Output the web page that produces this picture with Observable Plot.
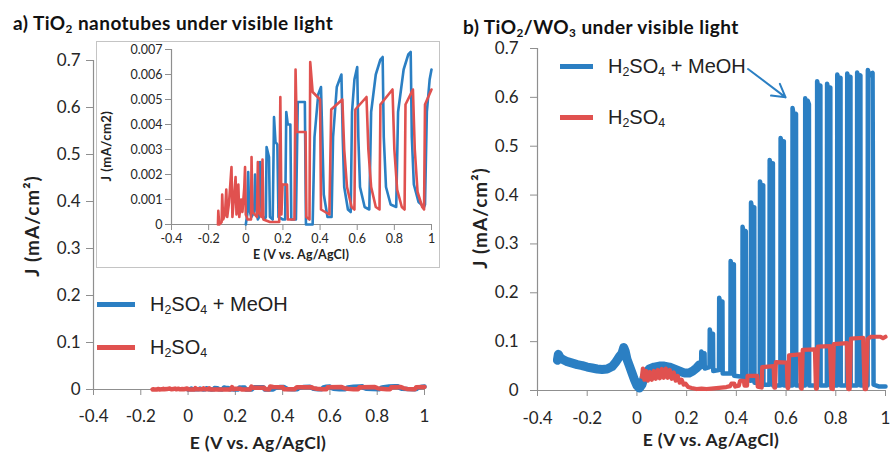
<!DOCTYPE html>
<html><head><meta charset="utf-8">
<script src="https://cdn.jsdelivr.net/npm/d3@7"></script>
<script src="https://cdn.jsdelivr.net/npm/@observablehq/plot@0.6"></script>
<style>
body{margin:0;background:#fff;}
#wrap{position:relative;width:890px;height:453px;overflow:hidden;font-family:Lato,sans-serif;color:#222;}
.abs{position:absolute;white-space:nowrap;}
.title{font-weight:bold;font-size:19px;line-height:19px;letter-spacing:0.45px;color:#111;}
.axt{font-weight:bold;font-size:17.5px;line-height:17.5px;letter-spacing:0.4px;color:#222;}
.yt{font-size:19px;line-height:19px;letter-spacing:1px;}
.rot{transform:translate(-50%,-50%) rotate(-90deg);}
.hx{transform:translateX(-50%);}
.leg{font-family:"Liberation Sans",Arial,sans-serif;font-size:20px;line-height:20px;color:#222;}
sub{font-size:0.62em;vertical-align:-0.28em;line-height:0;}
.sw{position:absolute;height:5px;}
#insetBox{position:absolute;left:96px;top:41px;width:342px;height:225px;border:1px solid #c4c4c4;background:#fff;}
</style></head><body><div id="wrap"></div><script>
// ---------- data ----------
const xTicks = [-0.4, -0.2, 0, 0.2, 0.4, 0.6, 0.8, 1];
const yTicksMain = [0, 0.1, 0.2, 0.3, 0.4, 0.5, 0.6, 0.7];
const yTicksInset = [0, 0.001, 0.002, 0.003, 0.004, 0.005, 0.006, 0.007];

// a) TiO2 nanotubes, H2SO4 + MeOH  [E (V), J (mA/cm2)]
const tio2Meoh = [[0.0,0.0],[0.008,0.0004],[0.013,0.0021],[0.018,0.0006],[0.03,0.0003],[0.045,0.0005],[0.05,0.0020],[0.056,0.0008],[0.065,0.0002],[0.072,0.0003],[0.077,0.0025],[0.082,0.0022],[0.088,0.0004],[0.1,0.0002],[0.108,0.0003],[0.112,0.0031],[0.125,0.0027],[0.13,0.0003],[0.145,0.0002],[0.152,0.0043],[0.16,0.0033],[0.17,0.0032],[0.176,0.0003],[0.2,0.0002],[0.212,0.0002],[0.218,0.0045],[0.226,0.0040],[0.24,0.0040],[0.245,0.0002],[0.27,0.0002],[0.28,0.0049],[0.3,0.0049],[0.318,0.0049],[0.324,0.0],[0.36,0.0],[0.37,0.0035],[0.39,0.0052],[0.405,0.0055],[0.412,0.0035],[0.42,0.0012],[0.44,0.0003],[0.462,0.0003],[0.47,0.0035],[0.49,0.0055],[0.515,0.0060],[0.522,0.0035],[0.53,0.0015],[0.55,0.0006],[0.565,0.0005],[0.572,0.0045],[0.585,0.0058],[0.6,0.0063],[0.606,0.0035],[0.615,0.0015],[0.64,0.0007],[0.665,0.0006],[0.675,0.0045],[0.7,0.0060],[0.725,0.0066],[0.737,0.0067],[0.743,0.0035],[0.755,0.0015],[0.78,0.0008],[0.81,0.0007],[0.82,0.0045],[0.85,0.0062],[0.875,0.0068],[0.888,0.0069],[0.894,0.0035],[0.905,0.0016],[0.93,0.0009],[0.96,0.0007],[0.965,0.0008],[0.975,0.0045],[0.99,0.0058],[1.0,0.0062]];

// a) TiO2 nanotubes, H2SO4
const tio2H2so4 = [[-0.15,0.0],[-0.148,0.00055],[-0.143,0.0],[-0.13,0.0001],[-0.127,0.0012],[-0.122,0.0002],[-0.112,0.0004],[-0.105,0.0014],[-0.1,0.0003],[-0.09,0.0009],[-0.077,0.0023],[-0.072,0.0003],[-0.062,0.0012],[-0.055,0.0019],[-0.05,0.0004],[-0.04,0.0016],[-0.035,0.0003],[-0.025,0.0010],[-0.018,0.0005],[-0.008,0.0015],[-0.004,0.0023],[0.0,0.0004],[0.01,0.0002],[0.028,0.0002],[0.031,0.0027],[0.036,0.0005],[0.06,0.0003],[0.065,0.0025],[0.07,0.0005],[0.085,0.0003],[0.09,0.0026],[0.095,0.0002],[0.13,0.0001],[0.18,0.0001],[0.186,0.0051],[0.192,0.0004],[0.198,0.0016],[0.222,0.0016],[0.226,0.0002],[0.262,0.0002],[0.268,0.0062],[0.275,0.0037],[0.322,0.0037],[0.326,0.0003],[0.343,0.0002],[0.347,0.0065],[0.36,0.0053],[0.4,0.0050],[0.405,0.0006],[0.45,0.0004],[0.46,0.0046],[0.52,0.0050],[0.53,0.0030],[0.545,0.0015],[0.57,0.0007],[0.585,0.0006],[0.59,0.0046],[0.65,0.0051],[0.66,0.0030],[0.675,0.0015],[0.7,0.0007],[0.72,0.0006],[0.725,0.0048],[0.79,0.0054],[0.8,0.0030],[0.815,0.0014],[0.84,0.0007],[0.855,0.0006],[0.86,0.0048],[0.9,0.0054],[0.91,0.0030],[0.925,0.0013],[0.95,0.0007],[0.96,0.0006],[0.965,0.0048],[1.0,0.0054]];

// b) TiO2/WO3, H2SO4 + MeOH : noisy dark-current band (before chopping)
const wo3MeohBand = [[-0.32,0.062],[-0.316,0.074],[-0.31,0.068],[-0.3,0.064],[-0.28,0.059],[-0.26,0.056],[-0.24,0.053],[-0.22,0.051],[-0.2,0.048],[-0.18,0.046],[-0.16,0.044],[-0.14,0.043],[-0.12,0.044],[-0.1,0.049],[-0.085,0.058],[-0.07,0.07],[-0.06,0.076],[-0.053,0.088],[-0.047,0.08],[-0.04,0.064],[-0.03,0.05],[-0.02,0.036],[-0.01,0.022],[0.0,0.01],[0.01,0.005],[0.02,0.012],[0.03,0.028],[0.04,0.038],[0.05,0.044],[0.07,0.048],[0.09,0.05],[0.11,0.05],[0.13,0.048],[0.15,0.044],[0.17,0.04],[0.19,0.036],[0.21,0.036],[0.225,0.04],[0.24,0.046],[0.25,0.052]];

// b) TiO2/WO3, H2SO4 + MeOH : chopped-light pulses
const wo3MeohPulses = [[0.25,0.052],[0.258,0.048],[0.259,0.08],[0.266,0.074],[0.272,0.076],[0.273,0.045],[0.292,0.048],[0.293,0.125],[0.298,0.112],[0.306,0.116],[0.307,0.04],[0.33,0.042],[0.331,0.19],[0.336,0.178],[0.344,0.182],[0.345,0.035],[0.376,0.035],[0.377,0.265],[0.382,0.254],[0.39,0.258],[0.391,0.03],[0.424,0.028],[0.425,0.335],[0.43,0.322],[0.438,0.326],[0.439,0.022],[0.458,0.02],[0.459,0.385],[0.464,0.37],[0.472,0.375],[0.473,0.016],[0.494,0.015],[0.495,0.428],[0.5,0.415],[0.508,0.42],[0.509,0.012],[0.533,0.012],[0.534,0.472],[0.539,0.46],[0.547,0.465],[0.548,0.01],[0.577,0.01],[0.578,0.517],[0.583,0.505],[0.591,0.51],[0.592,0.01],[0.625,0.01],[0.626,0.578],[0.631,0.562],[0.64,0.566],[0.641,0.01],[0.676,0.01],[0.677,0.598],[0.682,0.582],[0.687,0.593],[0.692,0.586],[0.693,0.01],[0.724,0.01],[0.725,0.633],[0.73,0.62],[0.738,0.624],[0.739,0.01],[0.764,0.01],[0.765,0.628],[0.77,0.615],[0.778,0.62],[0.779,0.01],[0.805,0.01],[0.806,0.647],[0.811,0.636],[0.819,0.64],[0.82,0.01],[0.845,0.01],[0.846,0.649],[0.851,0.638],[0.859,0.642],[0.86,0.01],[0.885,0.01],[0.886,0.651],[0.891,0.64],[0.899,0.645],[0.9,0.01],[0.928,0.01],[0.929,0.656],[0.934,0.645],[0.948,0.65],[0.952,0.012],[0.975,0.008],[1.0,0.008]];

// b) TiO2/WO3, H2SO4
const wo3H2so4 = [[0.02,0.028],[0.024,0.045],[0.03,0.022],[0.037,0.04],[0.044,0.02],[0.052,0.038],[0.06,0.022],[0.068,0.04],[0.076,0.024],[0.084,0.042],[0.092,0.025],[0.1,0.044],[0.108,0.026],[0.116,0.045],[0.124,0.026],[0.132,0.042],[0.14,0.024],[0.148,0.037],[0.156,0.02],[0.164,0.03],[0.172,0.016],[0.18,0.022],[0.188,0.012],[0.196,0.014],[0.206,0.007],[0.22,0.005],[0.24,0.003],[0.26,0.004],[0.28,0.003],[0.3,0.004],[0.32,0.005],[0.34,0.006],[0.36,0.007],[0.375,0.009],[0.38,0.014],[0.392,0.014],[0.395,0.008],[0.41,0.01],[0.415,0.02],[0.43,0.02],[0.433,0.01],[0.443,0.01],[0.445,0.03],[0.484,0.03],[0.486,0.008],[0.502,0.006],[0.504,0.048],[0.55,0.05],[0.553,0.006],[0.556,0.006],[0.559,0.058],[0.603,0.057],[0.606,0.005],[0.609,0.005],[0.612,0.072],[0.656,0.074],[0.659,0.005],[0.663,0.004],[0.667,0.083],[0.716,0.084],[0.72,0.004],[0.724,0.004],[0.728,0.09],[0.777,0.091],[0.782,0.004],[0.788,0.003],[0.792,0.095],[0.845,0.097],[0.85,0.003],[0.856,0.003],[0.861,0.106],[0.91,0.108],[0.916,0.003],[0.922,0.003],[0.928,0.105],[0.94,0.11],[0.98,0.11],[0.99,0.107],[1.0,0.11]];

// annotation arrow in panel b (data units)
const arrowNote = [{e1: 0.447, j1: 0.658, e2: 0.598, j2: 0.6}];

// ---------- styling ----------
const BLUE = "#2b7fc3", RED = "#e0514f", AXIS = "#8f8f8f", INK = "#262626";
const fmt = d => String(d);
const ex = d => d[0], jy = d => d[1];

function frame(yTicks, o) {
  return [
    Plot.ruleX([-0.4], {stroke: AXIS, strokeWidth: 1.2}),
    Plot.ruleY([0], {stroke: AXIS, strokeWidth: 1.2}),
    Plot.axisX({ticks: xTicks, tickFormat: fmt, tickSize: o.tx, tickPadding: o.px, stroke: AXIS, fill: INK, label: null}),
    Plot.axisY({ticks: yTicks, tickFormat: fmt, tickSize: o.ty, tickPadding: o.py, stroke: AXIS, fill: INK, label: null})
  ];
}

const wrap = document.getElementById("wrap");
function place(el, left, top) {
  const d = document.createElement("div");
  d.className = "abs"; d.style.left = left + "px"; d.style.top = top + "px";
  d.appendChild(el); wrap.appendChild(d); return d;
}
function html(cls, h, left, top) {
  const d = document.createElement("div");
  d.className = "abs " + cls; d.innerHTML = h;
  d.style.left = left + "px"; d.style.top = top + "px";
  wrap.appendChild(d); return d;
}
function swatch(color, left, top, w) {
  const d = document.createElement("div");
  d.className = "sw"; d.style.background = color;
  d.style.left = left + "px"; d.style.top = top + "px"; d.style.width = w + "px";
  wrap.appendChild(d);
}

// ---------- panel a (main) ----------
const left = Plot.plot({
  width: 445, height: 453,
  marginLeft: 93, marginRight: 21, marginTop: 60, marginBottom: 64,
  x: {domain: [-0.4, 1]}, y: {domain: [0, 0.7]},
  style: {fontFamily: "Lato, sans-serif", fontSize: "17px", background: "transparent", overflow: "visible"},
  marks: [
    ...frame(yTicksMain, {tx: 6, px: 14, ty: 7, py: 6}),
    Plot.line(tio2Meoh, {x: ex, y: jy, stroke: BLUE, strokeWidth: 4.5}),
    Plot.line(tio2H2so4, {x: ex, y: jy, stroke: RED, strokeWidth: 4.5})
  ]
});
place(left, 0, 0);

// ---------- panel a (inset) ----------
const box = document.createElement("div");
box.id = "insetBox";
wrap.appendChild(box);
const inset = Plot.plot({
  width: 342, height: 225,
  marginLeft: 74, marginRight: 8, marginTop: 7, marginBottom: 43,
  x: {domain: [-0.4, 1]}, y: {domain: [0, 0.007]},
  style: {fontFamily: "Lato, sans-serif", fontSize: "12.5px", background: "white", overflow: "visible"},
  marks: [
    ...frame(yTicksInset, {tx: 6, px: 4, ty: 6, py: 3}),
    Plot.line(tio2Meoh, {x: ex, y: jy, stroke: BLUE, strokeWidth: 2.6}),
    Plot.line(tio2H2so4, {x: ex, y: jy, stroke: RED, strokeWidth: 2.6})
  ]
});
box.appendChild(inset);

// ---------- panel b ----------
const right = Plot.plot({
  width: 445, height: 453,
  marginLeft: 92, marginRight: 5, marginTop: 48, marginBottom: 63,
  x: {domain: [-0.4, 1]}, y: {domain: [0, 0.7]},
  style: {fontFamily: "Lato, sans-serif", fontSize: "17px", background: "transparent", overflow: "visible"},
  marks: [
    ...frame(yTicksMain, {tx: 6, px: 15, ty: 7, py: 12}),
    Plot.line(wo3MeohBand, {x: ex, y: jy, stroke: BLUE, strokeWidth: 9}),
    Plot.line(wo3MeohPulses, {x: ex, y: jy, stroke: BLUE, strokeWidth: 4.5}),
    Plot.line(wo3H2so4, {x: ex, y: jy, stroke: RED, strokeWidth: 4.2}),
    Plot.arrow(arrowNote, {x1: "e1", y1: "j1", x2: "e2", y2: "j2", stroke: BLUE, strokeWidth: 2, headLength: 11, bend: 0})
  ]
});
place(right, 445, 0);

// ---------- texts ----------
html("title", "a) TiO<sub>2</sub> nanotubes under visible light", 13, 13);
html("title", "b) TiO<sub>2</sub>/WO<sub>3</sub> under visible light", 463, 17);

html("axt hx", "E (V vs. Ag/AgCl)", 258, 434);
html("axt hx", "E (V vs. Ag/AgCl)", 711, 431);
html("axt yt rot", "J (mA/cm²)", 31, 226);
html("axt yt rot", "J (mA/cm²)", 479, 218);

// inset axis titles
const ixl = html("axt hx", "E (V vs. Ag/AgCl)", 301, 249);
ixl.style.fontSize = "12.5px"; ixl.style.lineHeight = "12.5px"; ixl.style.letterSpacing = "0.2px";
const iyl = html("axt rot", "J (mA/cm2)", 106, 146);
iyl.style.fontSize = "13px"; iyl.style.lineHeight = "13px"; iyl.style.letterSpacing = "0.5px";

// legends
swatch(BLUE, 97, 302, 38);
html("leg", "H<sub>2</sub>SO<sub>4</sub> + MeOH", 150, 294);
swatch(RED, 97, 345, 38);
html("leg", "H<sub>2</sub>SO<sub>4</sub>", 150, 337);

swatch(BLUE, 560, 64, 33);
html("leg", "H<sub>2</sub>SO<sub>4</sub> + MeOH", 608, 56);
swatch(RED, 560, 115, 33);
html("leg", "H<sub>2</sub>SO<sub>4</sub>", 608, 107);
</script></body></html>
